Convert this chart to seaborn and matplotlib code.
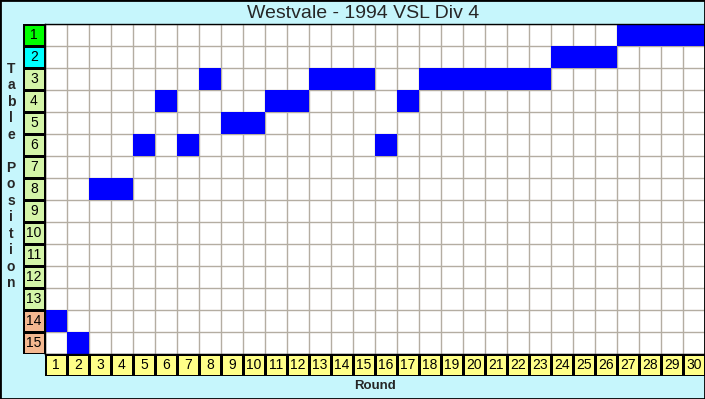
import seaborn as sns
import matplotlib.pyplot as plt
import matplotlib.patches as patches
from matplotlib.colors import ListedColormap
import pandas as pd
import numpy as np

title = "Westvale - 1994 VSL Div 4"
rounds = list(range(1, 31))
positions = [14, 15, 8, 8, 6, 4, 6, 3, 5, 5, 4, 4, 3, 3, 3, 6, 4, 3, 3, 3, 3, 3, 3, 2, 2, 2, 1, 1, 1, 1]
table_places = list(range(1, 16))
# 0 = champion, 1 = runner-up, 2 = mid table, 3 = relegation
place_zone = [0, 1, 2, 2, 2, 2, 2, 2, 2, 2, 2, 2, 2, 3, 3]
zone_colors = ['#00ff00', '#00ffff', '#d4f5a8', '#f4b890']

bg = '#c6f6fc'
gridcol = '#b4ada2'

sns.set_style('white')
plt.rcParams['font.family'] = ['Liberation Sans', 'DejaVu Sans']

fig = plt.figure(figsize=(7.05, 3.99), dpi=100)
fig.patch.set_facecolor(bg)

W, H = 705.0, 399.0
def box(x0, y0, x1, y1):
    return [x0 / W, 1 - y1 / H, (x1 - x0) / W, (y1 - y0) / H]

# main grid
ax = fig.add_axes(box(45, 24, 705, 354))
df = pd.DataFrame({'Round': rounds, 'Position': positions})
grid = pd.crosstab(df['Position'], df['Round']).reindex(index=table_places, columns=rounds, fill_value=0)
sns.heatmap(grid, ax=ax, cmap=ListedColormap(['#0000ff']), mask=grid == 0, cbar=False,
            xticklabels=False, yticklabels=False, vmin=0, vmax=1)
ax.set_facecolor('white')
ax.set_xticks(np.arange(len(rounds) + 1), minor=True)
ax.set_yticks(np.arange(len(table_places) + 1), minor=True)
ax.grid(which='minor', color=gridcol, lw=1)
ax.set_axisbelow(True)
ax.tick_params(which='both', length=0)
ax.set_xlabel('')
ax.set_ylabel('')
for s in ax.spines.values():
    s.set_visible(True)
    s.set_color('black')
    s.set_linewidth(1)

# row labels
ax_r = fig.add_axes(box(23, 24, 45, 354))
sns.heatmap(np.array(place_zone).reshape(-1, 1), ax=ax_r, cmap=ListedColormap(zone_colors),
            vmin=-0.5, vmax=3.5, cbar=False, annot=np.array(table_places).reshape(-1, 1), fmt='d',
            annot_kws={'color': 'black', 'fontsize': 10}, linewidths=1, linecolor='black',
            xticklabels=False, yticklabels=False)
ax_r.tick_params(length=0)

# column labels
ax_c = fig.add_axes(box(45, 354, 705, 376))
sns.heatmap(np.zeros((1, len(rounds))), ax=ax_c, cmap=ListedColormap(['#ffff88']), cbar=False,
            annot=np.array(rounds).reshape(1, -1), fmt='d',
            annot_kws={'color': 'black', 'fontsize': 10}, linewidths=1, linecolor='black',
            xticklabels=False, yticklabels=False)
ax_c.tick_params(length=0)

fig.text(363 / W, 1 - 13 / H, title, ha='center', va='center', fontsize=14)
fig.text(375 / W, 1 - 386 / H, 'Round', ha='center', va='center', fontsize=9.5, fontweight='bold')
fig.text(11 / W, 1 - 176 / H, '\n'.join('Table Position'), ha='center', va='center',
         fontsize=10, fontweight='bold', linespacing=1.23)

fig.patches.append(patches.Rectangle((0, 0), 1, 1, transform=fig.transFigure, fill=False,
                                     edgecolor='black', lw=2))

fig.savefig('out.png', dpi=100, facecolor=bg)
